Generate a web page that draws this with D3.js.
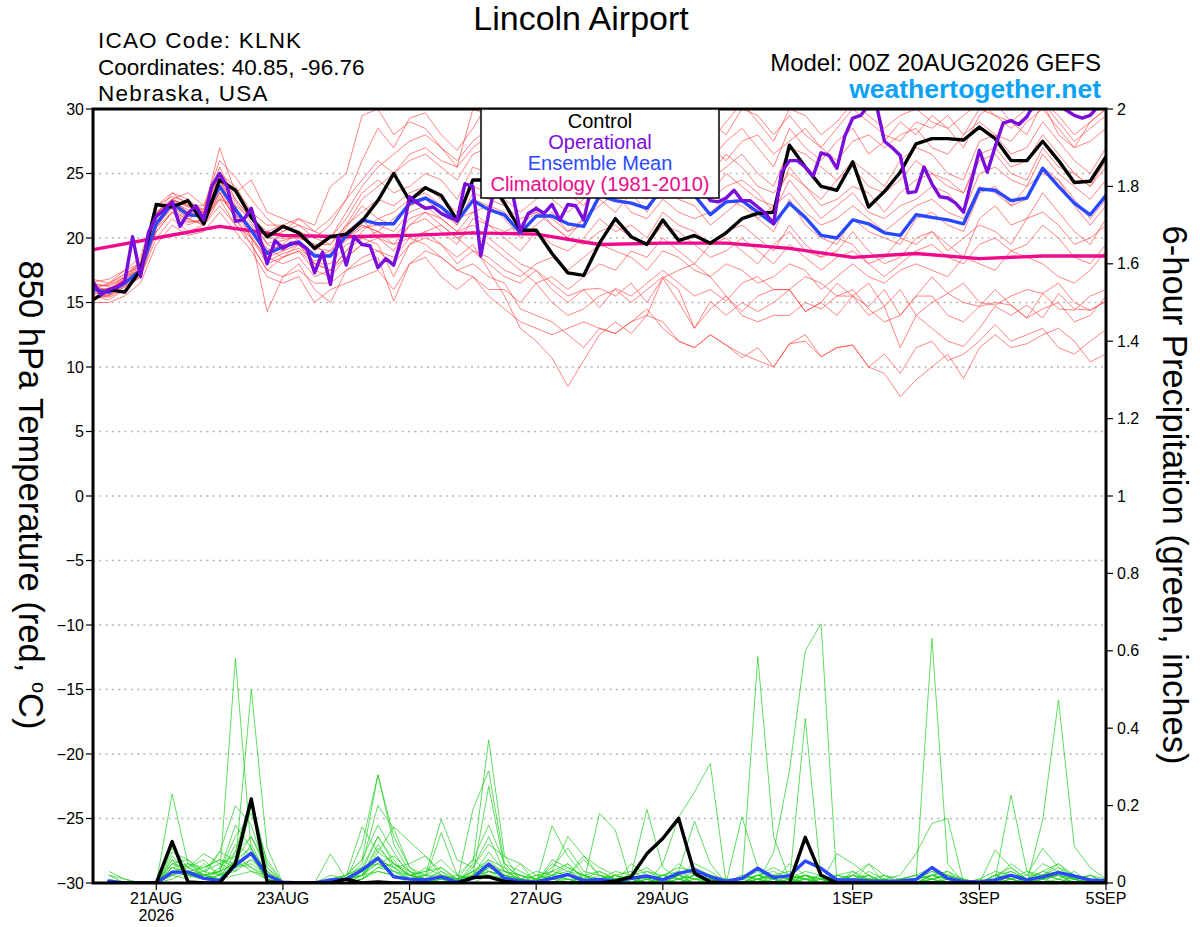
<!DOCTYPE html>
<html><head><meta charset="utf-8">
<script src="https://cdn.jsdelivr.net/npm/d3@7"></script>
<style>body{margin:0;background:#fff}svg{display:block}text{font-family:"Liberation Sans",Arial,Helvetica,sans-serif}</style>
</head><body><svg id="c" width="1200" height="927"></svg>
<script>
// ---------- DATA ----------
const startTime = "2026-08-20T00:00:00Z";
const endTime = "2026-09-05T00:00:00Z";
const tickDates = ["2026-08-21","2026-08-23","2026-08-25","2026-08-27","2026-08-29","2026-09-01","2026-09-03","2026-09-05"];
const tickLabels = ["21AUG","23AUG","25AUG","27AUG","29AUG","1SEP","3SEP","5SEP"];
const yearLabel = "2026";
const tempTicks = [30,25,20,15,10,5,0,-5,-10,-15,-20,-25,-30];
const precipTicks = [0,0.2,0.4,0.6,0.8,1,1.2,1.4,1.6,1.8,2];

// 850 hPa temperature, 6-hourly from 20AUG 00Z
const tempControl = [15.2,16.0,15.8,17.5,22.6,22.4,22.9,21.1,24.5,23.7,21.6,20.1,20.9,
 20.4,19.2,20.1,20.3,21.3,22.9,25.0,22.9,23.9,23.3,21.4,24.5,24.5,
 22.7,20.6,20.6,18.8,17.3,17.1,19.6,21.5,20.1,19.5,21.4,19.8,20.2,
 19.6,20.4,21.5,21.9,22.0,27.2,25.5,24.0,23.7,25.9,22.4,23.6,25.1,
 27.3,27.7,27.7,27.6,28.6,27.7,26.0,26.0,27.5,26.0,24.3,24.4,26.3];
const tempMean = [16.0,15.8,16.5,17.5,21.1,22.7,21.8,21.7,24.0,22.2,20.6,18.8,19.3,
 19.7,18.6,18.6,20.2,21.4,21.1,21.1,22.7,23.1,22.4,21.3,22.9,22.2,
 21.8,20.4,21.7,21.7,21.1,20.9,23.3,22.9,22.7,22.3,23.9,23.3,23.3,
 21.8,22.8,22.9,22.0,21.1,22.7,21.6,20.2,20.0,21.4,21.1,20.4,20.2,
 21.8,21.6,21.4,21.1,23.8,23.7,22.9,23.1,25.4,24.0,22.7,21.8,23.3];
// operational, 3-hourly
const tempOperational = [16.6,15.6,16.0,16.2,16.6,20.1,17.0,20.4,21.7,22.2,22.8,20.9,21.9,
 22.5,21.4,24.0,25.0,23.9,21.3,21.4,22.3,20.2,18.0,19.8,19.2,19.6,
 19.6,19.2,17.3,18.9,16.4,20.1,17.9,20.1,19.5,19.4,17.7,18.4,17.9,
 20.0,23.2,22.7,22.3,22.4,21.9,21.6,21.4,24.2,24.0,18.6,21.9,24.5,
 25.0,23.5,20.5,21.9,22.3,21.9,22.6,21.4,22.6,22.5,21.4,24.0,24.5,
 25.2,24.6,25.5,24.8,25.8,25.0,24.4,25.3,24.8,25.6,24.9,24.2,23.8,
 22.9,22.8,23.1,23.7,22.9,22.9,22.4,21.9,21.1,25.1,26.0,26.0,25.5,
 24.8,26.6,26.4,25.4,27.9,29.3,29.5,30.3,30.3,27.5,27.0,26.4,23.5,
 23.6,25.5,24.2,23.2,23.1,22.7,22.0,24.4,26.8,25.1,27.1,28.9,29.1,
 28.8,29.4,30.5,30.8,30.6,30.2,29.9,29.5,29.3,29.5,30.2,30.6];
// climatology, daily
const tempClimatology = [19.1,20.0,20.9,20.2,20.1,20.2,20.4,20.3,19.5,19.6,19.6,19.2,18.5,18.8,18.4,18.6,18.6];

const tempMember01 = [16.2,16.0,16.8,17.8,22.0,23.0,22.5,22.0,27.0,23.5,21.5,20.0,20.5,
 21.0,20.5,21.5,23.0,26.0,28.5,27.0,29.3,29.7,28.0,26.8,28.5,30.5,
 29.0,27.5,28.0,26.5,27.0,28.5,29.5,28.0,27.0,26.0,28.5,29.5,27.5,
 26.0,27.5,28.5,27.0,25.5,28.5,27.0,26.0,27.5,28.5,26.5,27.5,29.0,
 28.0,29.5,28.5,27.0,29.5,30.5,29.0,28.0,30.5,29.0,27.5,28.5,29.5];
const tempMember02 = [15.5,15.2,16.0,17.0,20.5,22.0,21.0,21.5,23.5,21.5,19.5,17.5,18.5,
 19.0,17.5,17.0,18.5,19.5,19.0,18.5,20.0,20.5,19.5,18.5,19.5,17.5,
 15.5,13.0,12.0,10.7,8.5,10.5,12.5,13.5,12.6,14.0,13.5,12.0,11.5,
 12.5,11.7,10.7,11.5,10.0,11.8,12.0,10.8,11.5,11.7,10.0,9.5,7.7,
 9.0,10.0,11.0,9.1,11.5,12.5,11.5,11.8,12.5,13.0,12.0,10.4,11.0];
const tempMember03 = [15.8,15.5,16.2,17.2,21.0,22.5,21.5,21.0,23.0,21.0,20.0,14.3,17.0,
 18.0,16.0,15.0,17.5,18.0,18.5,15.1,18.0,19.0,18.5,17.5,18.0,17.0,
 16.5,14.5,14.0,13.5,12.5,11.5,13.0,12.6,13.5,14.0,16.9,15.0,13.0,
 15.1,14.0,15.0,14.3,15.0,16.0,14.3,15.0,14.0,15.5,14.0,14.7,11.5,
 14.0,13.0,12.0,11.6,13.0,14.7,14.0,14.8,13.8,15.7,14.5,14.4,15.1];
const tempMember04 = [16.5,16.2,17.0,17.5,21.5,23.0,22.0,21.5,24.5,22.5,20.0,18.0,18.5,
 19.5,18.0,17.5,19.0,20.0,19.5,17.0,19.5,20.5,21.0,20.0,19.0,18.0,
 17.0,16.5,17.5,16.0,15.0,16.0,14.6,16.1,15.5,16.5,17.5,16.5,15.5,
 16.0,15.1,16.5,17.0,16.0,16.0,17.0,16.5,15.5,15.5,16.5,14.7,16.0,
 14.0,15.0,15.7,15.0,14.7,16.0,14.8,13.8,15.7,14.5,14.4,15.5,16.0];
const tempMember05 = [16.0,16.5,17.5,18.0,22.5,23.5,23.0,22.0,25.0,24.0,22.0,21.0,21.0,
 20.5,20.0,19.5,21.0,23.0,24.0,25.0,26.5,27.0,26.0,25.5,27.0,28.0,
 27.5,26.0,25.0,24.5,25.5,26.0,27.0,26.5,25.0,24.0,26.0,27.0,26.0,
 24.5,25.5,26.5,25.0,24.0,27.0,26.5,25.5,24.5,26.0,25.0,24.0,26.0,
 27.0,26.5,25.0,24.5,27.5,28.0,26.5,27.0,29.0,27.5,26.0,25.0,27.0];
const tempMember06 = [15.3,15.5,16.5,17.5,20.5,22.0,21.5,22.0,24.0,22.0,21.0,19.0,19.5,
 19.5,18.5,19.0,20.0,21.0,20.5,21.5,22.5,23.0,22.0,21.0,23.0,22.5,
 21.5,20.0,21.0,22.0,20.5,21.5,23.0,22.0,23.5,22.0,24.0,23.0,22.5,
 21.0,22.0,23.0,21.5,20.5,23.0,21.0,20.0,19.5,21.5,20.5,20.0,19.5,
 21.5,22.0,21.0,20.5,23.5,24.0,22.5,23.0,25.5,24.5,23.0,21.5,23.0];
const tempMember07 = [16.8,16.5,17.2,18.0,21.0,22.5,22.0,21.5,23.0,22.5,21.5,19.5,19.0,
 20.0,19.5,18.5,20.5,21.5,20.0,19.0,21.0,22.0,21.5,20.5,21.0,20.0,
 19.0,18.0,17.5,16.5,15.5,16.0,16.1,15.5,16.5,15.0,16.9,17.5,18.0,
 17.0,15.5,14.3,15.5,16.0,16.0,14.3,15.0,16.5,15.5,14.7,16.0,14.0,
 15.5,17.0,15.7,16.5,15.0,14.8,15.5,16.0,15.7,16.5,15.0,14.4,15.1];
const tempMember08 = [16.0,16.0,17.0,18.2,22.0,23.0,23.5,22.5,26.0,24.7,23.0,21.5,20.5,
 21.5,21.0,24.0,25.0,29.5,30.0,28.0,29.0,28.5,27.0,25.5,30.0,29.5,
 28.0,29.0,27.5,27.0,28.0,29.0,30.0,29.0,28.0,27.0,29.0,28.5,30.5,
 29.0,28.0,30.0,29.5,28.0,29.5,28.0,27.0,28.5,30.0,29.0,28.0,27.5,
 29.0,28.5,29.5,28.0,30.0,29.5,28.5,29.5,30.5,28.0,27.0,29.0,30.0];
const tempMember09 = [15.0,15.0,15.5,16.5,19.5,21.0,20.2,20.5,22.0,20.5,19.0,17.0,16.5,
 17.0,15.0,16.0,16.5,17.0,17.5,16.0,18.0,18.5,17.0,16.0,17.0,16.0,
 16.0,15.0,16.5,17.0,16.0,17.0,18.0,17.5,19.0,18.5,20.0,19.0,18.0,
 19.5,20.0,19.0,18.0,19.5,20.5,19.0,18.5,20.0,19.5,18.0,18.5,20.0,
 19.5,20.5,19.0,20.0,21.0,20.5,19.5,21.5,22.0,21.0,19.5,20.0,21.0];
const tempMember10 = [16.3,15.8,16.8,17.6,21.5,22.8,22.0,22.0,24.5,22.0,20.5,19.0,19.5,
 20.5,19.0,20.0,21.5,23.5,24.5,23.5,24.0,25.0,24.5,23.0,25.5,25.0,
 24.0,23.5,24.5,23.0,22.0,23.0,25.0,24.5,23.5,23.0,25.0,24.0,24.5,
 23.0,24.0,24.5,23.5,22.0,24.5,23.0,21.5,22.5,23.5,22.0,21.5,22.5,
 23.0,24.0,23.5,22.0,25.0,25.5,24.5,24.0,26.5,25.0,24.0,23.0,24.5];
const tempMember11 = [15.6,15.4,16.0,17.0,20.8,22.5,21.5,21.0,23.5,21.5,20.0,18.5,18.0,
 18.5,17.0,17.5,18.5,19.5,20.0,19.5,21.0,21.5,20.5,19.5,21.5,21.0,
 20.0,19.0,20.5,19.5,19.0,20.0,21.5,20.5,21.0,20.0,22.0,21.0,20.5,
 19.5,20.5,21.0,20.0,19.0,21.0,19.5,18.5,19.0,20.5,19.0,18.0,18.5,
 20.0,20.5,19.5,18.5,21.5,22.5,21.0,21.5,23.5,22.0,20.5,19.5,21.5];
const tempMember12 = [16.0,15.6,16.4,17.3,21.2,22.6,21.8,21.6,23.8,22.0,20.5,18.5,19.0,
 19.5,18.0,18.0,19.5,20.0,20.5,19.5,20.0,19.5,18.5,17.5,17.0,15.5,
 14.5,13.5,13.0,12.5,13.0,13.5,13.0,12.6,13.5,14.5,13.0,12.0,11.5,
 12.5,11.7,11.0,10.5,10.0,11.8,12.5,10.8,11.5,11.7,10.0,11.0,9.5,
 11.5,12.0,10.5,11.0,12.0,13.3,12.0,12.5,13.0,11.5,11.0,12.0,12.9];
const tempMember13 = [16.6,16.8,17.5,18.5,22.5,23.2,22.8,22.2,25.5,23.0,21.5,20.5,21.0,
 21.5,20.5,20.0,22.0,24.0,25.5,26.5,27.5,28.0,27.0,26.0,27.5,28.5,
 26.5,25.0,26.0,25.5,24.0,25.0,26.5,27.5,26.0,25.0,27.0,26.5,27.5,
 27.0,26.0,27.5,28.0,26.5,27.5,28.5,27.0,26.0,27.5,28.0,27.0,28.0,
 28.5,27.0,26.5,28.0,29.0,28.0,27.5,29.0,30.0,28.5,27.0,27.5,28.5];
const tempMember14 = [15.4,15.6,16.2,17.0,20.0,21.5,20.5,21.0,22.5,21.0,19.5,17.5,17.0,
 17.5,16.5,16.5,17.5,18.5,19.0,18.0,19.5,20.0,19.5,18.0,19.0,18.5,
 17.5,17.0,18.0,18.5,17.5,18.5,19.5,19.0,18.5,17.5,19.0,18.5,17.5,
 17.0,18.0,17.5,16.5,17.0,18.0,17.5,16.0,17.0,18.0,17.0,16.5,17.5,
 18.0,17.5,17.0,18.5,18.0,17.5,19.0,18.5,18.0,17.0,16.5,17.5,19.0];
const tempMember15 = [16.2,16.4,17.2,17.8,21.8,23.5,22.5,22.5,25.0,23.5,24.5,22.0,21.5,
 21.0,20.0,21.0,23.0,24.5,26.0,25.0,26.0,26.5,25.5,24.5,26.5,27.0,
 26.0,28.5,29.0,27.5,26.5,27.0,28.0,29.5,28.5,27.5,28.0,27.0,26.0,
 25.0,26.5,25.5,24.0,23.5,25.0,24.0,23.0,24.5,25.5,24.0,23.5,24.5,
 26.0,25.0,24.5,23.5,26.5,27.0,25.5,26.0,28.0,26.5,25.0,24.0,26.0];
const tempMember16 = [15.9,16.1,16.6,17.4,21.0,22.3,21.3,21.3,23.2,21.8,20.8,19.2,18.5,
 19.0,18.0,17.5,19.0,20.5,21.5,22.0,23.0,23.5,22.5,21.5,22.0,21.0,
 20.5,21.0,22.5,21.0,20.0,21.5,22.5,23.5,22.0,21.5,23.0,22.0,21.5,
 22.0,23.0,22.5,21.5,22.5,23.5,22.0,21.0,21.5,22.5,21.5,20.5,21.5,
 22.5,23.0,22.0,21.5,24.0,23.5,22.5,24.0,25.0,24.5,22.5,21.0,22.5];
const tempMember17 = [16.1,15.9,16.6,17.7,21.3,22.8,22.2,21.8,24.2,22.4,20.7,18.7,19.4,
 19.8,18.8,18.5,20.0,21.0,20.5,20.0,21.5,22.0,21.0,20.0,20.5,19.5,
 18.5,17.5,16.5,15.0,14.0,14.5,15.5,16.0,15.0,16.0,17.0,16.0,13.0,
 14.5,15.5,14.0,13.5,14.0,14.0,15.0,14.5,15.5,16.0,14.5,13.5,14.0,
 15.5,15.5,14.0,13.5,14.7,15.0,14.8,13.8,14.5,15.0,13.5,14.0,15.5];
const tempMember18 = [16.4,16.3,17.0,18.0,21.6,23.0,22.4,22.2,24.8,23.0,21.5,20.0,20.0,
 20.0,19.5,19.5,21.0,22.0,23.0,22.5,23.5,24.0,23.0,22.0,24.0,23.5,
 23.0,22.0,23.0,24.0,23.5,22.5,24.5,23.0,24.0,24.5,25.5,24.0,25.0,
 23.5,25.0,24.0,23.0,22.5,25.5,24.0,22.5,23.0,24.0,23.5,22.0,23.5,
 24.5,25.0,24.0,23.5,26.0,26.5,25.0,24.5,27.0,25.5,25.0,24.0,25.5];
const tempMember19 = [15.7,15.7,16.3,17.3,20.8,22.0,21.2,21.4,23.6,21.8,20.2,18.2,18.8,
 19.2,18.2,18.8,19.8,20.8,21.0,20.5,22.0,22.5,21.5,20.5,22.0,22.5,
 22.0,21.0,22.0,21.5,20.5,21.0,23.0,24.0,25.0,24.0,26.0,27.0,28.0,
 27.5,29.0,30.5,29.0,27.5,30.0,29.5,28.0,29.0,30.5,29.5,28.5,29.5,
 30.0,29.0,28.5,29.5,30.5,29.5,29.0,30.0,30.5,29.5,28.0,29.0,30.0];
const tempMember20 = [16.0,15.9,16.9,17.9,21.9,22.9,22.6,21.9,24.4,22.8,21.2,19.6,19.8,
 20.2,19.2,19.0,20.8,22.5,21.5,21.0,22.5,23.0,22.5,21.0,23.5,23.0,
 22.5,21.5,22.0,21.0,20.0,19.5,20.5,21.0,20.0,19.5,21.0,20.5,19.5,
 18.5,19.0,20.0,19.0,18.0,19.5,18.5,17.5,18.5,19.0,18.0,17.0,18.0,
 19.0,19.5,18.5,18.0,19.5,20.0,19.0,19.5,21.0,20.0,18.5,18.0,19.5];

// 6-hour precipitation (inches), 6-hourly, index 0 = 20AUG 00Z (not plotted)
const precipControl = [0,0,0,0,0,0.107,0.003,0,0,0.05,0.217,0.003,0,
 0,0,0,0.01,0,0.003,0,0,0,0,0,0.014,0.016,
 0.004,0,0,0,0,0,0,0.005,0.016,0.076,0.115,0.167,0.025,
 0.003,0,0,0,0,0,0.118,0.02,0,0,0,0,0,
 0,0,0,0,0,0,0,0,0,0,0,0,0];
const precipMean = [0,0.005,0,0,0,0.028,0.028,0.012,0.006,0.046,0.077,0.02,0.002,
 0,0,0.008,0.01,0.034,0.064,0.016,0.01,0.008,0.016,0.003,0.012,0.049,
 0.012,0.005,0.003,0.012,0.022,0.006,0.009,0.005,0.012,0.018,0.008,0.025,0.034,
 0.016,0.005,0.012,0.038,0.014,0.019,0.057,0.038,0.008,0.008,0.005,0.004,0.005,
 0.009,0.04,0.012,0.004,0.003,0.008,0.02,0.008,0.016,0.027,0.018,0.008,0.006];
const precipMember01 = [0,0,0,0,0,0.23,0.05,0.02,0.01,0.04,0.1,0.02,0,
 0,0,0,0.02,0.06,0.28,0.1,0.03,0,0.02,0,0.05,0.37,
 0.07,0.01,0,0.02,0.05,0.01,0,0.02,0,0.03,0.01,0.05,0.02,
 0,0,0.01,0.02,0,0.05,0.02,0,0,0.01,0.02,0,0,
 0,0.02,0.03,0,0,0.01,0.02,0,0,0.03,0.01,0,0];
const precipMember02 = [0,0.02,0,0,0,0.03,0.02,0.01,0.02,0.58,0.08,0,0,
 0,0,0.01,0.02,0.04,0.12,0.05,0.02,0.01,0,0,0.02,0.05,
 0.02,0,0,0,0.01,0,0.18,0.137,0,0,0,0.02,0,
 0,0,0,0.585,0.12,0.01,0,0,0,0,0.03,0.01,0,
 0,0.01,0,0,0,0.02,0.01,0,0,0,0.01,0.02,0];
const precipMember03 = [0,0,0,0,0,0.08,0.06,0.02,0.03,0.05,0.5,0.09,0,
 0,0,0.075,0.01,0.05,0.2,0.14,0.04,0.02,0.01,0,0.19,0.29,
 0.05,0.01,0,0.03,0.12,0.07,0.02,0,0,0.02,0,0,0,
 0.01,0,0,0,0.08,0.29,0.6,0.67,0,0,0.02,0,0,
 0,0,0.01,0,0,0,0.01,0.03,0.02,0.01,0,0,0];
const precipMember04 = [0,0,0,0,0,0.06,0.04,0.076,0.05,0.03,0.2,0.04,0,
 0,0,0.01,0.02,0.145,0.08,0.145,0.107,0.07,0.02,0.01,0.02,0.25,
 0.04,0,0,0.148,0.07,0.02,0,0.01,0.02,0.19,0.04,0.01,0.02,
 0,0,0,0.02,0.01,0,0.425,0.01,0,0,0.05,0.02,0,
 0.01,0.632,0.05,0,0,0,0.02,0.01,0.03,0.05,0.01,0,0.01];
const precipMember05 = [0,0,0,0,0,0.04,0.03,0.02,0.08,0.2,0.15,0.02,0,
 0,0,0,0,0.03,0.12,0.06,0.01,0.02,0.165,0.06,0.04,0.1,
 0.068,0.05,0.02,0.01,0.02,0.07,0.04,0.02,0,0,0.05,0.17,0.235,
 0.309,0,0,0,0,0,0.02,0.01,0,0.03,0,0.01,0.02,
 0.076,0.154,0.167,0,0,0.085,0.04,0.01,0,0,0.02,0,0];
const precipMember06 = [0,0,0,0,0,0.05,0.06,0.03,0.08,0.06,0.12,0.03,0,
 0,0,0.02,0.01,0.1,0.279,0.12,0.04,0.01,0.13,0.02,0.06,0.03,
 0.01,0,0.01,0,0,0.02,0,0,0.05,0.02,0.01,0.03,0.16,
 0.05,0,0.171,0.04,0,0.01,0,0.02,0,0.02,0.05,0,0,
 0,0.02,0.01,0,0,0.01,0.227,0.03,0.01,0,0.02,0.01,0];
const precipMember07 = [0,0,0,0,0,0.03,0.04,0.06,0.02,0.1,0.07,0.01,0,
 0,0,0,0.01,0.02,0.07,0.03,0.01,0.04,0.02,0.01,0.03,0.02,
 0.01,0.05,0,0.05,0.03,0.01,0,0.02,0.03,0.01,0,0.01,0.02,
 0.01,0,0.02,0.01,0,0.02,0.01,0,0.076,0.05,0.02,0,0.01,
 0.02,0.04,0.02,0,0.01,0.03,0.02,0,0.163,0.473,0.094,0.04,0.01];
const precipMember08 = [0,0,0,0,0,0.02,0.05,0.04,0.06,0.04,0.05,0.02,0,
 0,0,0,0.01,0.03,0.05,0.02,0,0.01,0,0,0.01,0.03,
 0.02,0.01,0.03,0.02,0.01,0.01,0.03,0.01,0.02,0,0.01,0.02,0.01,
 0.02,0,0,0.01,0.02,0.01,0.01,0,0.01,0.02,0.01,0,0,
 0.01,0.02,0.03,0.01,0,0.01,0.05,0.02,0.09,0.04,0.02,0.01,0];
const precipMember09 = [0,0,0,0,0,0.07,0.03,0.02,0.03,0.15,0.09,0.01,0,
 0,0,0,0,0.02,0.1,0.04,0.02,0.03,0.06,0.02,0.01,0.04,
 0.03,0.01,0,0.06,0.04,0.02,0.03,0.01,0,0.01,0.02,0.04,0.03,
 0.02,0.01,0,0.02,0.03,0.01,0.02,0.01,0,0.01,0,0,0.01,
 0.02,0.01,0,0,0,0.02,0.01,0,0.02,0.01,0.03,0,0];
const precipMember10 = [0,0.01,0,0,0,0.04,0.02,0.03,0.05,0.07,0.04,0.02,0,
 0,0,0,0.02,0.04,0.05,0.07,0.03,0.01,0.02,0,0.03,0.06,
 0.02,0,0.01,0.03,0.02,0,0.01,0.03,0.02,0.04,0.01,0.02,0.05,
 0.03,0,0,0.01,0.02,0.03,0.01,0,0.02,0.03,0.01,0.01,0,
 0.01,0.03,0.02,0.01,0,0.02,0.04,0.01,0.05,0.03,0.01,0.02,0.01];
const precipMember11 = [0,0,0,0,0,0.02,0.01,0.05,0.02,0.03,0.06,0.03,0,
 0,0,0,0,0.01,0.03,0.02,0.01,0,0.01,0,0.02,0.08,
 0.03,0.02,0.01,0,0.02,0.01,0,0,0.01,0,0.02,0.01,0,
 0,0,0.01,0.03,0.01,0,0.02,0.01,0,0,0.01,0,0,
 0,0.01,0.02,0,0,0.01,0.03,0.01,0.02,0.05,0.02,0.01,0];
const precipMember12 = [0,0,0,0,0,0.03,0.02,0.01,0.04,0.08,0.12,0.04,0,
 0,0,0,0.01,0.02,0.09,0.05,0.02,0.03,0.04,0.01,0.02,0.03,
 0.02,0,0,0.01,0,0.02,0.01,0,0,0.02,0.01,0,0.01,
 0.01,0,0.02,0.01,0,0.01,0.03,0.02,0.01,0,0,0.01,0,
 0.01,0,0.01,0,0,0,0.01,0,0.01,0.02,0.01,0,0];
const precipMember13 = [0,0,0,0,0,0.01,0.03,0.02,0.01,0.02,0.03,0.01,0,
 0,0,0,0,0.01,0.04,0.03,0.01,0,0.02,0.01,0,0.02,
 0.01,0,0.02,0.01,0.01,0,0.02,0.01,0.01,0,0.01,0.02,0,
 0,0.01,0,0,0.01,0,0,0.01,0.02,0.01,0,0,0,
 0,0.02,0,0,0.01,0,0.02,0.01,0,0.01,0,0.02,0];
const precipMember14 = [0,0,0,0,0,0.05,0.04,0.02,0.01,0.06,0.03,0.02,0,
 0,0,0,0.02,0.06,0.15,0.08,0.02,0.01,0,0,0.04,0.12,
 0.03,0.01,0,0.02,0.03,0.02,0,0.01,0,0.01,0,0.02,0.04,
 0.02,0,0,0.01,0,0.02,0.01,0,0.01,0,0.02,0,0,
 0.01,0.03,0.01,0,0,0.02,0.01,0,0.01,0.02,0,0,0.01];
const precipMember15 = [0,0,0,0,0,0.06,0.02,0.01,0.03,0.12,0.18,0.06,0,
 0,0,0,0,0.02,0.06,0.04,0.05,0.07,0.03,0.01,0.06,0.15,
 0.05,0.03,0.01,0.04,0.09,0.03,0.02,0.01,0.02,0.03,0.02,0.01,0.03,
 0.02,0,0.01,0.02,0.04,0.02,0.01,0,0.02,0.01,0,0.02,0.01,
 0.02,0.01,0,0,0,0.01,0.02,0.01,0.03,0.02,0.01,0,0];
const precipMember16 = [0,0.02,0.01,0,0,0.04,0.05,0.03,0.02,0.04,0.06,0.02,0,
 0,0,0,0.01,0.02,0.03,0.02,0.01,0,0.01,0.02,0.01,0.02,
 0.01,0,0,0.01,0.02,0.01,0.01,0.02,0.01,0,0.02,0.01,0,
 0.01,0,0,0.02,0.01,0,0.01,0.02,0.01,0,0.01,0,0,
 0,0.01,0.02,0,0,0.01,0.02,0,0.01,0.02,0,0.01,0];
const precipMember17 = [0,0,0,0,0,0.02,0.03,0.04,0.06,0.05,0.04,0.01,0,
 0,0,0,0,0.01,0.04,0.05,0.02,0.01,0.03,0,0.01,0.04,
 0.02,0.01,0.02,0.03,0.05,0.01,0.01,0,0.02,0.01,0.02,0.03,0.01,
 0,0.01,0.01,0,0.02,0.01,0.02,0,0,0.02,0.01,0,0,
 0.01,0.02,0.01,0,0,0,0.01,0.02,0.02,0.04,0.01,0,0];
const precipMember18 = [0,0,0,0,0,0.09,0.04,0.02,0.01,0.08,0.22,0.05,0,
 0,0,0,0,0.01,0.08,0.05,0.03,0.02,0.02,0,0.02,0.06,
 0.04,0.02,0,0.01,0.02,0.06,0.02,0.01,0,0.02,0.01,0,0.02,
 0.01,0,0,0.02,0.01,0,0.01,0.01,0,0,0.01,0.02,0,
 0,0.01,0.02,0.01,0,0.02,0.03,0.01,0.02,0.03,0.01,0,0];
const precipMember19 = [0,0.03,0.01,0,0,0.03,0.02,0.02,0.03,0.05,0.08,0.03,0,
 0,0,0,0.01,0.02,0.05,0.03,0.02,0.01,0.01,0,0.01,0.03,
 0.02,0.01,0,0.02,0.01,0,0.01,0.02,0,0.01,0,0.01,0,
 0,0,0,0.01,0,0.01,0.02,0,0,0.01,0,0,0,
 0,0.02,0.01,0,0,0.01,0.02,0,0.01,0.02,0.01,0,0];
const precipMember20 = [0,0,0,0,0,0.05,0.03,0.01,0.02,0.06,0.09,0.02,0,
 0,0,0,0,0.03,0.06,0.04,0.01,0.02,0.04,0.01,0.03,0.05,
 0.03,0.02,0.01,0.02,0.04,0.02,0.01,0,0.01,0.02,0.01,0.02,0.01,
 0.01,0,0,0.01,0.02,0.01,0,0,0.01,0.02,0,0,0.01,
 0.01,0.02,0.01,0,0,0.01,0.02,0.01,0.02,0.03,0.02,0.01,0];

const tempMembers = [tempMember01,tempMember02,tempMember03,tempMember04,tempMember05,tempMember06,tempMember07,tempMember08,tempMember09,tempMember10,
 tempMember11,tempMember12,tempMember13,tempMember14,tempMember15,tempMember16,tempMember17,tempMember18,tempMember19,tempMember20];
const precipMembers = [precipMember01,precipMember02,precipMember03,precipMember04,precipMember05,precipMember06,precipMember07,precipMember08,precipMember09,precipMember10,
 precipMember11,precipMember12,precipMember13,precipMember14,precipMember15,precipMember16,precipMember17,precipMember18,precipMember19,precipMember20];

// ---------- CHART ----------
const svg = d3.select("#c");
const L = 93, R = 1106, T = 109, B = 883;
const t0 = Date.parse(startTime);
const H = 3600e3;
const x = d3.scaleUtc().domain([new Date(startTime), new Date(endTime)]).range([L, R]);
const yT = d3.scaleLinear().domain([-30, 30]).range([B, T]);
const yP = d3.scaleLinear().domain([0, 2]).range([B, T]);
const at = (i, step) => x(new Date(t0 + i * step * H));

svg.append("defs").append("clipPath").attr("id", "pc")
  .append("rect").attr("x", L).attr("y", T).attr("width", R - L).attr("height", B - T);

// grid (left-axis levels)
svg.append("g").selectAll("line").data(tempTicks.filter(v => v > -30 && v < 30)).join("line")
  .attr("x1", L).attr("x2", R).attr("y1", d => yT(d)).attr("y2", d => yT(d))
  .attr("stroke", "#b4b4b4").attr("stroke-width", 1.3).attr("stroke-dasharray", "2,4.3");

const plot = svg.append("g").attr("clip-path", "url(#pc)");

const lineT6 = d3.line().x((d, i) => at(i, 6)).y(d => yT(d));
const lineT3 = d3.line().x((d, i) => at(i, 3)).y(d => yT(d));
const lineT24 = d3.line().x((d, i) => at(i, 24)).y(d => yT(d));
const lineP = d3.line().defined((d, i) => i > 0).x((d, i) => at(i, 6)).y(d => yP(d));

plot.append("g").selectAll("path").data(tempMembers).join("path")
  .attr("d", lineT6).attr("fill", "none").attr("stroke", "#ff3b3b").attr("stroke-opacity", 0.75).attr("stroke-width", 0.85);
plot.append("g").selectAll("path").data(precipMembers).join("path")
  .attr("d", lineP).attr("fill", "none").attr("stroke", "#22d022").attr("stroke-opacity", 0.85).attr("stroke-width", 0.85);

const thick = (d, gen, color) => plot.append("path").datum(d).attr("d", gen)
  .attr("fill", "none").attr("stroke", color).attr("stroke-width", 3.4)
  .attr("stroke-linejoin", "round").attr("stroke-linecap", "round");

thick(tempClimatology, lineT24, "#ee0a8a");
thick(tempMean, lineT6, "#2a48ff");
thick(tempControl, lineT6, "#000000");
thick(tempOperational, lineT3, "#7a0cdc");
thick(precipMean, lineP, "#2a48ff");
thick(precipControl, lineP, "#000000");

// frame
svg.append("rect").attr("x", L).attr("y", T).attr("width", R - L).attr("height", B - T)
  .attr("fill", "none").attr("stroke", "#000").attr("stroke-width", 3);

// left axis
const gl = svg.append("g");
gl.selectAll("line").data(tempTicks).join("line")
  .attr("x1", L - 7).attr("x2", L).attr("y1", d => yT(d)).attr("y2", d => yT(d)).attr("stroke", "#000").attr("stroke-width", 1.2);
gl.selectAll("text").data(tempTicks).join("text")
  .attr("x", L - 9).attr("y", d => yT(d) + 5.5).attr("text-anchor", "end")
  .attr("font-size", 16).text(d => d3.format("d")(d));

// right axis
const gr = svg.append("g");
gr.selectAll("line").data(precipTicks).join("line")
  .attr("x1", R).attr("x2", R + 7).attr("y1", d => yP(d)).attr("y2", d => yP(d)).attr("stroke", "#000").attr("stroke-width", 1.2);
gr.selectAll("text").data(precipTicks).join("text")
  .attr("x", R + 11).attr("y", d => yP(d) + (d === 0 ? 4 : 5.5)).attr("text-anchor", "start")
  .attr("font-size", 16).text(d => d3.format("~g")(d));

// bottom axis
const gb = svg.append("g");
const tks = tickDates.map(s => new Date(s + "T00:00:00Z"));
gb.selectAll("line").data(tks).join("line")
  .attr("x1", d => x(d)).attr("x2", d => x(d)).attr("y1", B).attr("y2", B + 7).attr("stroke", "#000").attr("stroke-width", 1.2);
gb.selectAll("text").data(tks).join("text")
  .attr("x", d => x(d)).attr("y", B + 21).attr("text-anchor", "middle")
  .attr("font-size", 16).text((d, i) => tickLabels[i]);
gb.append("text").attr("x", x(tks[0])).attr("y", B + 38).attr("text-anchor", "middle")
  .attr("font-size", 16).text(yearLabel);

// axis titles (both read top-to-bottom)
const lt = svg.append("text").attr("transform", "translate(19,495) rotate(90)")
  .attr("text-anchor", "middle").attr("font-size", 34.5);
lt.append("tspan").text("850 hPa Temperature (red, ");
lt.append("tspan").attr("font-size", 20).attr("dy", -13).text("o");
lt.append("tspan").attr("dy", 13).text("C)");
svg.append("text").attr("transform", "translate(1163,495) rotate(90)")
  .attr("text-anchor", "middle").attr("font-size", 34.5).text("6-hour Precipitation (green, inches)");

// header
svg.append("text").attr("x", 581).attr("y", 30).attr("text-anchor", "middle").attr("font-size", 34).text("Lincoln Airport");
const hl = ["ICAO Code: KLNK", "Coordinates: 40.85, -96.76", "Nebraska, USA"];
svg.append("g").selectAll("text").data(hl).join("text")
  .attr("x", 98).attr("y", (d, i) => 48 + i * 26.5).attr("font-size", 22.5)
  .attr("letter-spacing", (d, i) => i === 1 ? 0 : 1.2).text(d => d);
svg.append("text").attr("x", 1101).attr("y", 71).attr("text-anchor", "end").attr("font-size", 24).text("Model: 00Z 20AUG2026 GEFS");
svg.append("text").attr("x", 1101).attr("y", 98).attr("text-anchor", "end").attr("font-size", 26.5)
  .attr("font-weight", "bold").attr("fill", "#0aa2f5").text("weathertogether.net");

// legend
const lg = svg.append("g");
lg.append("rect").attr("x", 481).attr("y", 109).attr("width", 238).attr("height", 89)
  .attr("fill", "#fff").attr("stroke", "#000").attr("stroke-width", 1.5);
const legendItems = [["Control", "#000000"], ["Operational", "#7a0cdc"], ["Ensemble Mean", "#2a48ff"], ["Climatology (1981-2010)", "#ee0a8a"]];
lg.selectAll("text").data(legendItems).join("text")
  .attr("x", 600).attr("y", (d, i) => 127.5 + i * 21.3).attr("text-anchor", "middle")
  .attr("font-size", 20).attr("fill", d => d[1]).text(d => d[0]);
</script></body></html>
